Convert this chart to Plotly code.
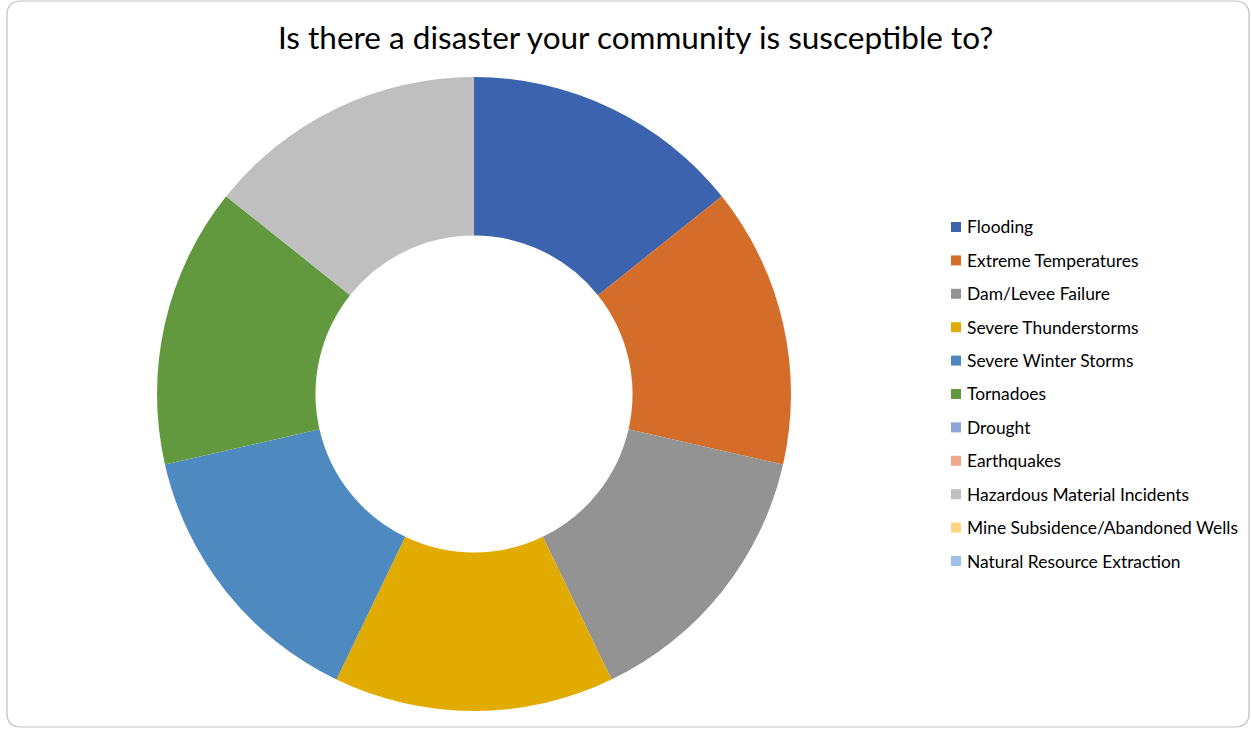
import plotly.graph_objects as go

labels = ["Flooding", "Extreme Temperatures", "Dam/Levee Failure", "Severe Thunderstorms",
          "Severe Winter Storms", "Tornadoes", "Drought", "Earthquakes",
          "Hazardous Material Incidents", "Mine Subsidence/Abandoned Wells",
          "Natural Resource Extraction"]
values = [1, 1, 1, 1, 1, 1, 0, 0, 1, 0, 0]
colors = ["#3C64AE", "#D46D2A", "#939393", "#E2AB00", "#4E89BF", "#62993E",
          "#8FA4D8", "#F1A78A", "#BFBFBF", "#FFD480", "#9CC0E6"]
title = "Is there a disaster your community is susceptible to?"

W, H = 1251, 729
FONT = "Lato"

fig = go.Figure()
fig.add_trace(go.Pie(
    labels=labels, values=values, hole=0.5, sort=False, direction="clockwise",
    rotation=0, textinfo="none", marker=dict(colors=colors, line=dict(width=0)),
    domain=dict(x=[157 / W, 791 / W], y=[1 - 711 / H, 1 - 77 / H]),
    showlegend=False,
))

# manual legend
shapes = []
annotations = []
y0, dy = 227, 33.4
for i, (lab, col) in enumerate(zip(labels, colors)):
    py = y0 + i * dy
    shapes.append(dict(type="rect", xref="paper", yref="paper",
                       x0=951 / W, x1=961 / W, y0=1 - (py + 5) / H, y1=1 - (py - 5) / H,
                       fillcolor=col, line=dict(width=0)))
    annotations.append(dict(text=lab, xref="paper", yref="paper", x=965 / W, y=1 - py / H,
                            xanchor="left", yanchor="middle", showarrow=False,
                            font=dict(family=FONT, size=17.4, color="#000000")))

annotations.append(dict(text=title, xref="paper", yref="paper", x=635 / W, y=1 - 37 / H,
                        xanchor="center", yanchor="middle", showarrow=False,
                        font=dict(family=FONT, size=31.5, color="#000000")))

# rounded border
L, R, T, B, r = 7, 1249, 1, 727, 14
def px(x): return x / W
def py_(y): return 1 - y / H
path = (f"M {px(L + r)},{py_(T)} L {px(R - r)},{py_(T)} Q {px(R)},{py_(T)} {px(R)},{py_(T + r)} "
        f"L {px(R)},{py_(B - r)} Q {px(R)},{py_(B)} {px(R - r)},{py_(B)} "
        f"L {px(L + r)},{py_(B)} Q {px(L)},{py_(B)} {px(L)},{py_(B - r)} "
        f"L {px(L)},{py_(T + r)} Q {px(L)},{py_(T)} {px(L + r)},{py_(T)} Z")
shapes.append(dict(type="path", xref="paper", yref="paper", path=path,
                   line=dict(color="#BFBFBF", width=1.2)))

fig.update_layout(
    width=W, height=H, margin=dict(l=0, r=0, t=0, b=0),
    paper_bgcolor="white", plot_bgcolor="white",
    shapes=shapes, annotations=annotations, showlegend=False,
    font=dict(family=FONT),
)
fig.write_html("out.html", config={"displayModeBar": False},
               post_script="document.body.style.margin='0';document.body.style.overflow='hidden';")
